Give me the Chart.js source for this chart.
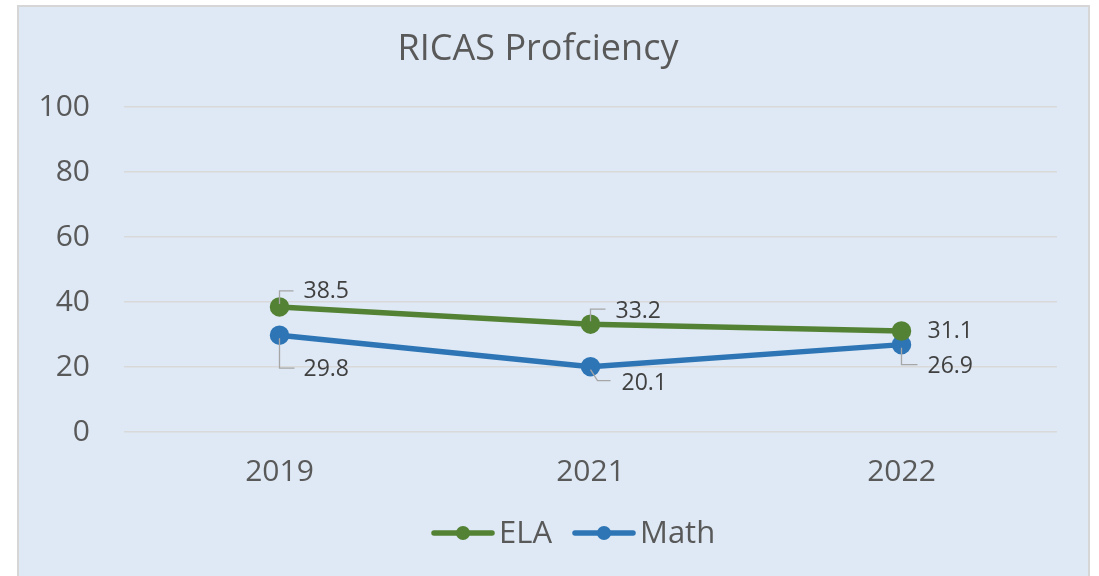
<!DOCTYPE html>
<html lang="en">
<head>
<meta charset="UTF-8">
<script src="https://cdn.jsdelivr.net/npm/chart.js"></script>
<title>RICAS Profciency</title>
<style>
  body { margin: 0; background: #fff; }
  .frame {
    position: absolute; left: 17px; top: 5px; width: 1069px; height: 575px;
    border: 2px solid #d6d6d6; background: #dee9f5;
  }
  .frame canvas { display: block; }
</style>
</head>
<body>
<div class="frame"><canvas id="chart" width="1069" height="575"></canvas></div>
<script>
// chart data
const years = ['2019', '2021', '2022'];
const elaScores = [38.5, 33.2, 31.1];
const mathScores = [29.8, 20.1, 26.9];
const yTicks = [0, 20, 40, 60, 80, 100];

const GREEN = '#548235';
const BLUE = '#2e75b6';
const FONT = "'Open Sans', sans-serif";

// where each value label sits relative to its point (dx to text start, dy to text middle)
// and the bend of its leader line, or null for none
const labelPlacement = {
  ELA: [
    { dx: 24, dy: -15, leader: [[0, -3], [0, -16], [14, -16]] },
    { dx: 25, dy: -13, leader: [[0, -3], [0, -15], [15, -15]] },
    { dx: 26, dy: 0, leader: null }
  ],
  Math: [
    { dx: 24, dy: 34, leader: [[0, 3], [0, 33], [15, 33]] },
    { dx: 31, dy: 17, leader: [[0, 3], [7, 14], [20, 14]] },
    { dx: 26, dy: 22, leader: [[0, 3], [0, 20], [16, 20]] }
  ]
};

const valueLabels = {
  id: 'valueLabels',
  afterDatasetsDraw(chart) {
    const ctx = chart.ctx;
    ctx.save();
    ctx.font = '23px ' + FONT;
    ctx.fillStyle = '#404040';
    ctx.textBaseline = 'middle';
    ctx.textAlign = 'left';
    chart.data.datasets.forEach((ds, i) => {
      const meta = chart.getDatasetMeta(i);
      const places = labelPlacement[ds.label];
      meta.data.forEach((pt, j) => {
        const p = places[j];
        if (p.leader) {
          ctx.strokeStyle = '#a6a6a6';
          ctx.lineWidth = 1.3;
          ctx.beginPath();
          p.leader.forEach(([lx, ly], k) => {
            if (k === 0) ctx.moveTo(pt.x + lx, pt.y + ly);
            else ctx.lineTo(pt.x + lx, pt.y + ly);
          });
          ctx.stroke();
        }
        ctx.fillText(ds.data[j].toFixed(1), pt.x + p.dx, pt.y + p.dy);
      });
    });
    ctx.restore();
  }
};

// legend drawn by hand: line with a dot, then the series name
const lineLegend = {
  id: 'lineLegend',
  afterDraw(chart) {
    const ctx = chart.ctx;
    const y = 526;
    let x = 413;
    ctx.save();
    ctx.font = '31px ' + FONT;
    ctx.textBaseline = 'middle';
    ctx.textAlign = 'left';
    chart.data.datasets.forEach(ds => {
      ctx.strokeStyle = ds.borderColor;
      ctx.fillStyle = ds.borderColor;
      ctx.lineWidth = 5.5;
      ctx.lineCap = 'round';
      ctx.beginPath(); ctx.moveTo(x + 2, y); ctx.lineTo(x + 60, y); ctx.stroke();
      ctx.beginPath(); ctx.arc(x + 31, y, 7, 0, Math.PI * 2); ctx.fill();
      ctx.fillStyle = '#595959';
      ctx.fillText(ds.label, x + 67, y + 1);
      x += 67 + ctx.measureText(ds.label).width + 21;
    });
    ctx.restore();
  }
};

new Chart(document.getElementById('chart'), {
  type: 'line',
  data: {
    labels: years,
    datasets: [
      {
        label: 'ELA', data: elaScores, borderColor: GREEN, backgroundColor: GREEN,
        borderWidth: 5.5, pointRadius: 7, pointHoverRadius: 7
      },
      {
        label: 'Math', data: mathScores, borderColor: BLUE, backgroundColor: BLUE,
        borderWidth: 5.5, pointRadius: 7, pointHoverRadius: 7
      }
    ]
  },
  options: {
    responsive: false,
    animation: false,
    layout: { padding: { left: 0, right: 31, top: 0, bottom: 78 } },
    plugins: {
      title: {
        display: true, text: 'RICAS Profciency', color: '#595959',
        font: { family: FONT, size: 36, weight: 'normal' },
        padding: { top: 21, bottom: 36 }
      },
      legend: { display: false },
      tooltip: { enabled: false }
    },
    scales: {
      x: {
        offset: true,
        grid: { display: false },
        border: { display: false },
        ticks: { color: '#595959', font: { family: FONT, size: 30 }, padding: 14 }
      },
      y: {
        min: 0, max: 100,
        afterBuildTicks: s => { s.ticks = yTicks.map(v => ({ value: v })); },
        afterFit: s => { s.width = 105; },
        grid: { color: '#d9d9d9', lineWidth: 1.5, drawTicks: false },
        border: { display: false },
        ticks: { color: '#595959', font: { family: FONT, size: 30 }, padding: 34 }
      }
    }
  },
  plugins: [valueLabels, lineLegend]
});
</script>
</body>
</html>
